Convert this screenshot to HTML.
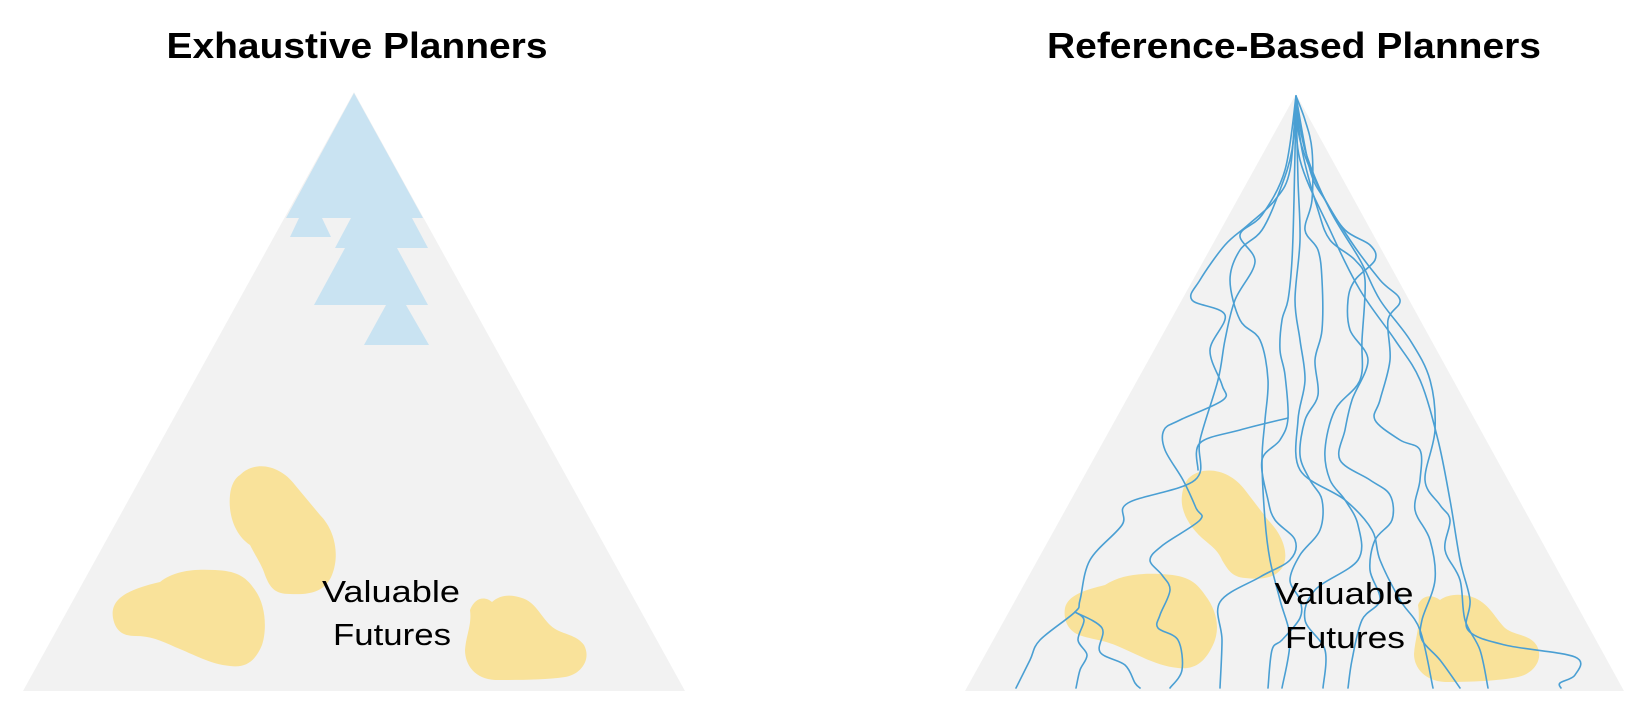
<!DOCTYPE html>
<html><head><meta charset="utf-8"><style>
html,body{margin:0;padding:0;background:#fff;}
svg{display:block;}
</style></head><body>
<svg id="s" width="1638" height="720" viewBox="0 0 1638 720" xmlns="http://www.w3.org/2000/svg">
<text x="357" y="58" font-family="Liberation Sans, sans-serif" font-weight="bold" font-size="36" text-anchor="middle" textLength="381" lengthAdjust="spacingAndGlyphs">Exhaustive Planners</text>
<text x="1294" y="58" font-family="Liberation Sans, sans-serif" font-weight="bold" font-size="36" text-anchor="middle" textLength="494" lengthAdjust="spacingAndGlyphs">Reference-Based Planners</text>

<polygon points="354,92 23,691 685,691" fill="#f2f2f2"/>
<polygon points="1296,94 965,691 1624,691" fill="#f2f2f2"/>

<g fill="#c9e3f2">
<polygon points="354,93 286,218 423,218"/>
<polygon points="299,218 322,218 331,237 290,237"/>
<polygon points="351,218 412,218 428,248 335,248"/>
<polygon points="345,248 397,248 428,305 314,305"/>
<polygon points="386,305 406,305 429,345 364,345"/>
</g>

<g fill="#f9e29a">
<path d="M240,475 C255,460 280,465 295,485 L320,515 C335,530 340,555 332,575 C325,592 310,595 290,594 C275,594 270,588 265,575 C262,565 255,555 250,545 C235,535 228,515 230,495 C231,485 235,478 240,475Z"/>
<path d="M160,582 C175,570 195,569 215,570 C235,571 245,575 255,590 C266,605 267,630 262,645 C255,662 245,668 230,666 C210,664 195,655 175,647 C160,640 150,636 135,636 C120,636 115,628 113,618 C110,600 125,590 160,582Z"/>
<path d="M470,610 C475,597 485,596 492,602 C500,595 510,594 522,598 C535,602 540,615 550,625 C560,635 575,633 584,645 C592,660 580,675 565,677 C545,680 520,680 495,680 C475,679 465,665 465,650 C466,635 472,625 470,610Z"/>
<path d="M1190,477 C1205,465 1230,470 1245,490 L1268,520 C1283,535 1290,555 1282,568 C1275,578 1262,580 1245,578 C1232,577 1228,570 1222,560 C1218,550 1210,545 1202,538 C1188,525 1180,510 1182,495 C1183,487 1186,480 1190,477Z"/>
<path d="M1105,585 C1120,575 1140,573 1160,574 C1185,575 1195,580 1205,595 C1218,612 1220,630 1213,645 C1205,662 1195,670 1178,668 C1158,666 1140,656 1122,648 C1105,640 1095,640 1082,636 C1068,632 1063,620 1065,608 C1068,595 1085,590 1105,585Z"/>
<path d="M1418,605 C1422,595 1432,594 1440,600 C1448,594 1462,593 1475,598 C1490,605 1495,618 1505,628 C1515,636 1530,634 1537,646 C1544,660 1533,674 1518,677 C1498,681 1470,682 1445,682 C1425,681 1414,668 1414,654 C1415,638 1421,625 1418,605Z"/>
</g>

<g font-family="Liberation Sans, sans-serif" font-size="31" fill="#000" text-anchor="middle">
<text x="391" y="602" textLength="138" lengthAdjust="spacingAndGlyphs">Valuable</text>
<text x="392" y="645" textLength="118" lengthAdjust="spacingAndGlyphs">Futures</text>
</g>

<g id="lines" fill="none" stroke="#4a9fd3" stroke-width="1.6" stroke-linejoin="round" stroke-linecap="round">
<polyline points="1296,96 1285,170 1262,215 1240,235 1255,262 1235,300 1225,340 1218,380 1200,440 1195,480 1128,503 1122,525 1090,560 1080,600 1075,612 1040,640 1030,660 1016,688"/>
<polyline points="1075,612 1084,620 1078,640 1087,655 1080,670 1076,688"/>
<polyline points="1075,612 1102,628 1100,652 1125,665 1135,683 1140,688"/>
<polyline points="1296,96 1290,170 1275,200 1248,225 1225,245 1200,280 1192,300 1225,315 1210,350 1222,385 1223,400 1180,420 1164,430 1165,450 1183,480 1196,508 1200,520 1163,545 1150,560 1162,575 1170,590 1160,615 1158,628 1178,640 1182,670 1170,688"/>
<polyline points="1296,96 1294,200 1292,260 1288,300 1282,320 1280,350 1285,375 1288,418 1280,440 1262,460 1268,500 1275,520 1295,540 1290,560 1260,577 1220,602 1222,640 1220,688"/>
<polyline points="1288,418 1240,430 1200,443 1198,470"/>
<polyline points="1296,96 1305,120 1312,150 1312,200 1305,230 1318,250 1322,280 1322,330 1315,360 1318,395 1305,420 1300,455 1310,480 1322,500 1320,530 1300,555 1290,580 1300,600 1300,618 1282,640 1272,650 1268,688"/>
<polyline points="1296,96 1310,170 1325,200 1345,230 1370,245 1375,260 1355,280 1348,300 1350,330 1368,360 1352,400 1345,430 1340,460 1370,480 1390,495 1392,520 1375,540 1370,570 1380,600 1362,620 1352,660 1348,688"/>
<polyline points="1296,96 1302,150 1318,210 1330,240 1355,260 1365,280 1362,340 1360,380 1335,410 1325,450 1330,480 1345,500 1358,525 1358,560 1315,590 1305,620 1325,650 1323,688"/>
<polyline points="1296,96 1300,140 1320,190 1350,240 1380,280 1400,300 1388,320 1390,360 1380,400 1375,420 1400,440 1420,450 1420,480 1415,510 1430,540 1435,580 1422,620 1422,640 1440,660 1460,688"/>
<polyline points="1296,96 1305,150 1330,210 1360,260 1380,300 1410,340 1430,380 1435,430 1425,480 1440,505 1450,520 1445,550 1460,580 1465,620 1480,650 1488,688"/>
<polyline points="1296,96 1300,160 1330,230 1360,290 1395,340 1420,380 1438,440 1450,500 1460,560 1470,600 1468,630 1505,645 1575,657 1575,675 1560,683 1561,688"/>
<polyline points="1296,96 1292,150 1280,190 1262,230 1240,250 1230,280 1240,320 1260,340 1268,380 1265,420 1262,460 1265,520 1270,560 1280,600 1290,640 1282,688"/>
<polyline points="1296,96 1298,180 1300,240 1295,300 1300,340 1305,380 1298,420 1300,470 1345,500 1372,530 1380,560 1400,600 1420,630 1433,688"/>
</g>

<g font-family="Liberation Sans, sans-serif" font-size="31" fill="#000" text-anchor="middle">
<text x="1344" y="604" textLength="139" lengthAdjust="spacingAndGlyphs">Valuable</text>
<text x="1345" y="648" textLength="120" lengthAdjust="spacingAndGlyphs">Futures</text>
</g>
</svg>
<script>
(function(){
var g=document.getElementById('lines');
var pls=g.querySelectorAll('polyline');
for(var k=0;k<pls.length;k++){
 var pl=pls[k];
 var nums=pl.getAttribute('points').trim().split(/[\s,]+/).map(Number);
 var p=[];for(var i=0;i<nums.length;i+=2)p.push([nums[i],nums[i+1]]);
 var d='M'+p[0][0]+','+p[0][1];
 for(var i=0;i<p.length-1;i++){
  var p0=p[i>0?i-1:0],p1=p[i],p2=p[i+1],p3=p[i+2<p.length?i+2:i+1];
  var c1x=p1[0]+(p2[0]-p0[0])/6,c1y=p1[1]+(p2[1]-p0[1])/6;
  var c2x=p2[0]-(p3[0]-p1[0])/6,c2y=p2[1]-(p3[1]-p1[1])/6;
  d+=' C'+c1x.toFixed(1)+','+c1y.toFixed(1)+' '+c2x.toFixed(1)+','+c2y.toFixed(1)+' '+p2[0]+','+p2[1];
 }
 var path=document.createElementNS('http://www.w3.org/2000/svg','path');
 path.setAttribute('d',d);
 pl.parentNode.replaceChild(path,pl);
}
})();
</script>
</body></html>
